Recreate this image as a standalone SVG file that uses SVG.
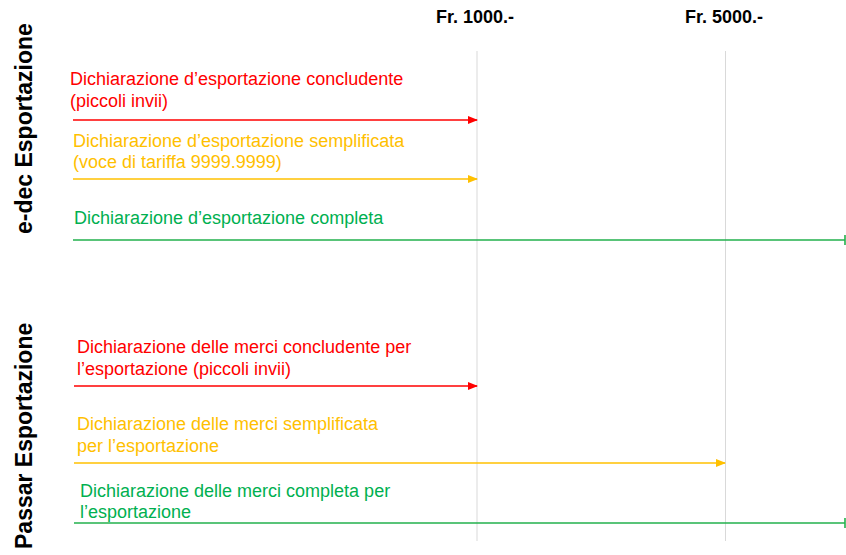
<svg xmlns="http://www.w3.org/2000/svg" width="846" height="555" viewBox="0 0 846 555">
<style>
text{font-family:"Liberation Sans",Arial,sans-serif}
.lbl{font-size:18px}
.hdr{font-size:18px;font-weight:bold;fill:#000}
.side{font-size:23px;font-weight:bold;fill:#000}
.r{fill:#ff0000}.o{fill:#ffc000}.g{fill:#00b050}
.grid{stroke:#d9d9d9;stroke-width:1}
.lr{stroke:#ff0000;stroke-width:1.6;fill:none}
.lo{stroke:#ffc000;stroke-width:1.6;fill:none}
.lg{stroke:#22b14c;stroke-width:1.6;fill:none}
</style>
<defs>
<marker id="ar" markerWidth="10" markerHeight="8" refX="9" refY="4" orient="auto" markerUnits="userSpaceOnUse"><path d="M0,0 L10,4 L0,8 Z" fill="#ff0000"/></marker>
<marker id="ao" markerWidth="10" markerHeight="8" refX="9" refY="4" orient="auto" markerUnits="userSpaceOnUse"><path d="M0,0 L10,4 L0,8 Z" fill="#ffc000"/></marker>
<marker id="tg" markerWidth="2" markerHeight="10" refX="1" refY="5" orient="auto" markerUnits="userSpaceOnUse"><path d="M1,0 L1,10" stroke="#22b14c" stroke-width="1.6"/></marker>
</defs>
<rect width="846" height="555" fill="#fff"/>
<g id="axis">
<text class="hdr" x="436" y="23">Fr. 1000.-</text>
<text class="hdr" x="685" y="23">Fr. 5000.-</text>
<line class="grid" x1="477" y1="51" x2="477" y2="541"/>
<line class="grid" x1="725.5" y1="51" x2="725.5" y2="541"/>
</g>
<g id="side-labels">
<text class="side" transform="translate(32,234) rotate(-90)">e-dec Esportazione</text>
<text class="side" transform="translate(32,549) rotate(-90)">Passar Esportazione</text>
</g>
<g id="connectors">
<line class="lr" x1="73" y1="120" x2="477" y2="120" marker-end="url(#ar)"/>
<line class="lo" x1="73" y1="179" x2="477" y2="179" marker-end="url(#ao)"/>
<line class="lg" x1="73" y1="240" x2="845" y2="240" marker-end="url(#tg)"/>
<line class="lr" x1="74" y1="386" x2="477" y2="386" marker-end="url(#ar)"/>
<line class="lo" x1="74" y1="463" x2="725" y2="463" marker-end="url(#ao)"/>
<line class="lg" x1="74" y1="523" x2="845" y2="523" marker-end="url(#tg)"/>
</g>
<g id="n1"><text class="lbl r" x="70" y="85">Dichiarazione d’esportazione concludente</text><text class="lbl r" x="70" y="107">(piccoli invii)</text></g>
<g id="n2"><text class="lbl o" x="73" y="147">Dichiarazione d’esportazione semplificata</text><text class="lbl o" x="73" y="168">(voce di tariffa 9999.9999)</text></g>
<g id="n3"><text class="lbl g" x="74" y="224">Dichiarazione d’esportazione completa</text></g>
<g id="n4"><text class="lbl r" x="77" y="353">Dichiarazione delle merci concludente per</text><text class="lbl r" x="77" y="375">l’esportazione (piccoli invii)</text></g>
<g id="n5"><text class="lbl o" x="77" y="430">Dichiarazione delle merci semplificata</text><text class="lbl o" x="77" y="452">per l’esportazione</text></g>
<g id="n6"><text class="lbl g" x="80" y="497">Dichiarazione delle merci completa per</text><text class="lbl g" x="80" y="518">l’esportazione</text></g>
</svg>
